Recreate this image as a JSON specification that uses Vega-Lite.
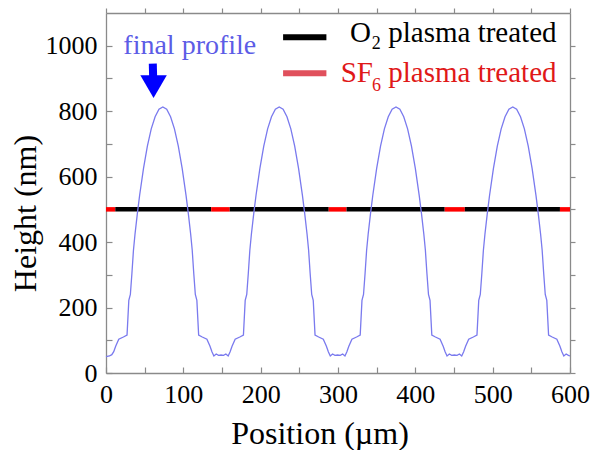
{
  "$schema": "https://vega.github.io/schema/vega-lite/v6.json",
  "width": 464,
  "height": 360,
  "autosize": {"type": "none"},
  "padding": {"left": 106, "top": 13, "right": 20, "bottom": 77},
  "background": "white",
  "config": {
    "view": {"stroke": null},
    "axis": {
      "grid": false,
      "labelFont": "'Liberation Serif', 'Times New Roman', Times, 'DejaVu Serif', serif",
      "labelFontSize": 26,
      "labelColor": "#000000",
      "labelFlush": false,
      "labelOverlap": false,
      "titleFont": "'Liberation Serif', 'Times New Roman', Times, 'DejaVu Serif', serif",
      "titleFontSize": 32,
      "titleFontWeight": "normal",
      "titleColor": "#000000",
      "domainColor": "#8a8a8a",
      "domainWidth": 1.3,
      "tickColor": "#8a8a8a",
      "tickWidth": 1.2
    },
    "text": {"font": "'Liberation Serif', 'Times New Roman', Times, 'DejaVu Serif', serif"}
  },
  "datasets": {
    "profile": [
      {"x":0,"h":50},{"x":4.5,"h":52},{"x":7.5,"h":56},{"x":10,"h":65},{"x":12.5,"h":82},{"x":16.5,"h":103},{"x":22.5,"h":110},{"x":27.2,"h":116},{"x":29.5,"h":222},{"x":31.5,"h":240},{"x":33.5,"h":304},{"x":35.5,"h":375},{"x":37.5,"h":424},{"x":40.5,"h":486},{"x":43.5,"h":543},{"x":48.5,"h":625},{"x":53.5,"h":693},{"x":58.5,"h":746},{"x":63.5,"h":783},{"x":68.5,"h":806},{"x":73.5,"h":813},{"x":78.5,"h":806},{"x":83.5,"h":783},{"x":88.5,"h":746},{"x":93.5,"h":693},{"x":98.5,"h":625},{"x":103.5,"h":543},{"x":106.5,"h":486},{"x":109.5,"h":424},{"x":111.5,"h":375},{"x":113.5,"h":304},{"x":115.5,"h":240},{"x":117.5,"h":222},{"x":119.8,"h":116},{"x":124.5,"h":110},{"x":130.5,"h":103},{"x":134.5,"h":82},{"x":137,"h":65},{"x":139.5,"h":52},{"x":142.5,"h":58},{"x":145.5,"h":54},{"x":148.75,"h":55},
      {"x":152,"h":54},{"x":155,"h":58},{"x":158,"h":52},{"x":160.5,"h":65},{"x":163,"h":82},{"x":167,"h":103},{"x":173,"h":110},{"x":177.7,"h":116},{"x":180,"h":222},{"x":182,"h":240},{"x":184,"h":304},{"x":186,"h":375},{"x":188,"h":424},{"x":191,"h":486},{"x":194,"h":543},{"x":199,"h":625},{"x":204,"h":693},{"x":209,"h":746},{"x":214,"h":783},{"x":219,"h":806},{"x":224,"h":813},{"x":229,"h":806},{"x":234,"h":783},{"x":239,"h":746},{"x":244,"h":693},{"x":249,"h":625},{"x":254,"h":543},{"x":257,"h":486},{"x":260,"h":424},{"x":262,"h":375},{"x":264,"h":304},{"x":266,"h":240},{"x":268,"h":222},{"x":270.3,"h":116},{"x":275,"h":110},{"x":281,"h":103},{"x":285,"h":82},{"x":287.5,"h":65},{"x":290,"h":52},{"x":293,"h":58},{"x":296,"h":54},{"x":299.5,"h":55},
      {"x":303,"h":54},{"x":306,"h":58},{"x":309,"h":52},{"x":311.5,"h":65},{"x":314,"h":82},{"x":318,"h":103},{"x":324,"h":110},{"x":328.7,"h":116},{"x":331,"h":222},{"x":333,"h":240},{"x":335,"h":304},{"x":337,"h":375},{"x":339,"h":424},{"x":342,"h":486},{"x":345,"h":543},{"x":350,"h":625},{"x":355,"h":693},{"x":360,"h":746},{"x":365,"h":783},{"x":370,"h":806},{"x":375,"h":813},{"x":380,"h":806},{"x":385,"h":783},{"x":390,"h":746},{"x":395,"h":693},{"x":400,"h":625},{"x":405,"h":543},{"x":408,"h":486},{"x":411,"h":424},{"x":413,"h":375},{"x":415,"h":304},{"x":417,"h":240},{"x":419,"h":222},{"x":421.3,"h":116},{"x":426,"h":110},{"x":432,"h":103},{"x":436,"h":82},{"x":438.5,"h":65},{"x":441,"h":52},{"x":444,"h":58},{"x":447,"h":54},{"x":450.5,"h":55},
      {"x":454,"h":54},{"x":457,"h":58},{"x":460,"h":52},{"x":462.5,"h":65},{"x":465,"h":82},{"x":469,"h":103},{"x":475,"h":110},{"x":479.7,"h":116},{"x":482,"h":222},{"x":484,"h":240},{"x":486,"h":304},{"x":488,"h":375},{"x":490,"h":424},{"x":493,"h":486},{"x":496,"h":543},{"x":501,"h":625},{"x":506,"h":693},{"x":511,"h":746},{"x":516,"h":783},{"x":521,"h":806},{"x":526,"h":813},{"x":531,"h":806},{"x":536,"h":783},{"x":541,"h":746},{"x":546,"h":693},{"x":551,"h":625},{"x":556,"h":543},{"x":559,"h":486},{"x":562,"h":424},{"x":564,"h":375},{"x":566,"h":304},{"x":568,"h":240},{"x":570,"h":222},{"x":572.3,"h":116},{"x":577,"h":110},{"x":583,"h":103},{"x":587,"h":82},{"x":589.5,"h":65},{"x":592,"h":52},{"x":595,"h":58},{"x":598,"h":54},{"x":600,"h":52}
    ],
    "treat": [
      {"gas":"SF6","x1":0,"x2":12},
      {"gas":"O2","x1":12,"x2":136},
      {"gas":"SF6","x1":136,"x2":160},
      {"gas":"O2","x1":160,"x2":288},
      {"gas":"SF6","x1":288,"x2":311},
      {"gas":"O2","x1":311,"x2":438},
      {"gas":"SF6","x1":438,"x2":464},
      {"gas":"O2","x1":464,"x2":587},
      {"gas":"SF6","x1":587,"x2":600}
    ],
    "swatch": [
      {"gas":"O2","x1":229,"x2":285,"y":1026},
      {"gas":"SF6","x1":229,"x2":285,"y":916}
    ],
    "legendText": [
      {"gas":"O2","x":315.5,"y":1010,"label":"O"},
      {"gas":"O2","x":365,"y":1010,"label":"plasma treated"},
      {"gas":"SF6","x":303.5,"y":888,"label":"SF"},
      {"gas":"SF6","x":365,"y":888,"label":"plasma treated"}
    ],
    "legendSub": [
      {"gas":"O2","x":343.5,"y":990,"label":"2"},
      {"gas":"SF6","x":344,"y":863,"label":"6"}
    ],
    "note": [{"x":22.4,"y":975,"label":"final profile"}],
    "arrowShaft": [{"x":60.5,"y":945,"x2":61,"y2":902}],
    "arrowHead": [{"x":61.5,"y":875}]
  },
  "resolve": {"axis": {"x": "independent", "y": "independent"}},
  "layer": [
    {
      "data": {"name": "profile"},
      "mark": {"type": "line", "opacity": 0},
      "encoding": {
        "x": {"field": "x", "type": "quantitative", "scale": {"domain": [0, 600], "nice": false, "zero": false},
          "axis": {"orient": "top", "title": null, "labels": false, "values": [0,50,100,150,200,250,300,350,400,450,500,550,600], "tickSize": 5,
            "encode": {"ticks": {"update": {"y2": {"signal": "datum.value % 100 === 0 ? 7 : 4"}}}}}},
        "y": {"field": "h", "type": "quantitative", "scale": {"domain": [0, 1100], "nice": false, "zero": false},
          "axis": {"orient": "right", "title": null, "labels": false, "values": [0,100,200,300,400,500,600,700,800,900,1000], "tickSize": 5,
            "encode": {"ticks": {"update": {"x2": {"signal": "datum.value % 200 === 0 ? -7 : -4"}}}}}}
      }
    },
    {
      "data": {"name": "treat"},
      "mark": {"type": "rule", "strokeWidth": 4.5, "strokeCap": "butt"},
      "encoding": {
        "x": {"field": "x1", "type": "quantitative", "scale": {"domain": [0, 600], "nice": false, "zero": false}, "axis": null},
        "x2": {"field": "x2"},
        "y": {"datum": 500, "type": "quantitative", "axis": null},
        "color": {"field": "gas", "type": "nominal", "scale": {"domain": ["O2", "SF6"], "range": ["#000000", "#ff0000"]}, "legend": null}
      }
    },
    {
      "data": {"name": "profile"},
      "mark": {"type": "line", "color": "#7a7aee", "strokeWidth": 1.3},
      "encoding": {
        "x": {"field": "x", "type": "quantitative", "scale": {"domain": [0, 600], "nice": false, "zero": false},
          "axis": {"orient": "bottom", "title": "Position (µm)", "values": [0,50,100,150,200,250,300,350,400,450,500,550,600], "format": "d",
            "labelExpr": "datum.value % 100 === 0 ? datum.label : ''", "tickSize": -6, "labelPadding": 14,
            "titleX": 213.5, "titleY": 70, "titleBaseline": "alphabetic", "titleAlign": "center", "titleAnchor": null,
            "encode": {"ticks": {"update": {"y2": {"signal": "datum.value % 100 === 0 ? -7 : -4"}}}}}},
        "y": {"field": "h", "type": "quantitative", "scale": {"domain": [0, 1100], "nice": false, "zero": false},
          "axis": {"orient": "left", "title": "Height (nm)", "values": [0,100,200,300,400,500,600,700,800,900,1000], "format": "d",
            "labelExpr": "datum.value % 200 === 0 ? datum.label : ''", "tickSize": -6, "labelPadding": 15,
            "titleX": -71, "titleY": 200, "titleBaseline": "alphabetic", "titleAlign": "center", "titleAnchor": null,
            "encode": {"ticks": {"update": {"x2": {"signal": "datum.value % 200 === 0 ? 7 : 4"}}}}}}
      }
    },
    {
      "data": {"name": "swatch"},
      "mark": {"type": "rule", "strokeWidth": 6, "strokeCap": "butt"},
      "encoding": {
        "x": {"field": "x1", "type": "quantitative", "axis": null},
        "x2": {"field": "x2"},
        "y": {"field": "y", "type": "quantitative", "axis": null},
        "stroke": {"condition": {"test": "datum.gas === 'SF6'", "value": "#e0505c"}, "value": "#000000"}
      }
    },
    {
      "data": {"name": "legendText"},
      "mark": {"type": "text", "align": "left", "baseline": "alphabetic", "fontSize": 29},
      "encoding": {
        "x": {"field": "x", "type": "quantitative", "axis": null},
        "y": {"field": "y", "type": "quantitative", "axis": null},
        "text": {"field": "label"},
        "color": {"condition": {"test": "datum.gas === 'SF6'", "value": "#e01818"}, "value": "#000000"}
      }
    },
    {
      "data": {"name": "legendSub"},
      "mark": {"type": "text", "align": "left", "baseline": "alphabetic", "fontSize": 18},
      "encoding": {
        "x": {"field": "x", "type": "quantitative", "axis": null},
        "y": {"field": "y", "type": "quantitative", "axis": null},
        "text": {"field": "label"},
        "color": {"condition": {"test": "datum.gas === 'SF6'", "value": "#e01818"}, "value": "#000000"}
      }
    },
    {
      "data": {"name": "note"},
      "mark": {"type": "text", "align": "left", "baseline": "alphabetic", "fontSize": 28, "color": "#5c5ce6"},
      "encoding": {
        "x": {"field": "x", "type": "quantitative", "axis": null},
        "y": {"field": "y", "type": "quantitative", "axis": null},
        "text": {"field": "label"}
      }
    },
    {
      "data": {"name": "arrowShaft"},
      "mark": {"type": "rule", "strokeWidth": 8, "strokeCap": "butt", "color": "#0000ff"},
      "encoding": {
        "x": {"field": "x", "type": "quantitative", "axis": null},
        "y": {"field": "y", "type": "quantitative", "axis": null},
        "x2": {"field": "x2"},
        "y2": {"field": "y2"}
      }
    },
    {
      "data": {"name": "arrowHead"},
      "mark": {"type": "point", "shape": "triangle-down", "filled": true, "size": 700, "color": "#0000ff", "opacity": 1},
      "encoding": {
        "x": {"field": "x", "type": "quantitative", "axis": null},
        "y": {"field": "y", "type": "quantitative", "axis": null}
      }
    }
  ]
}
